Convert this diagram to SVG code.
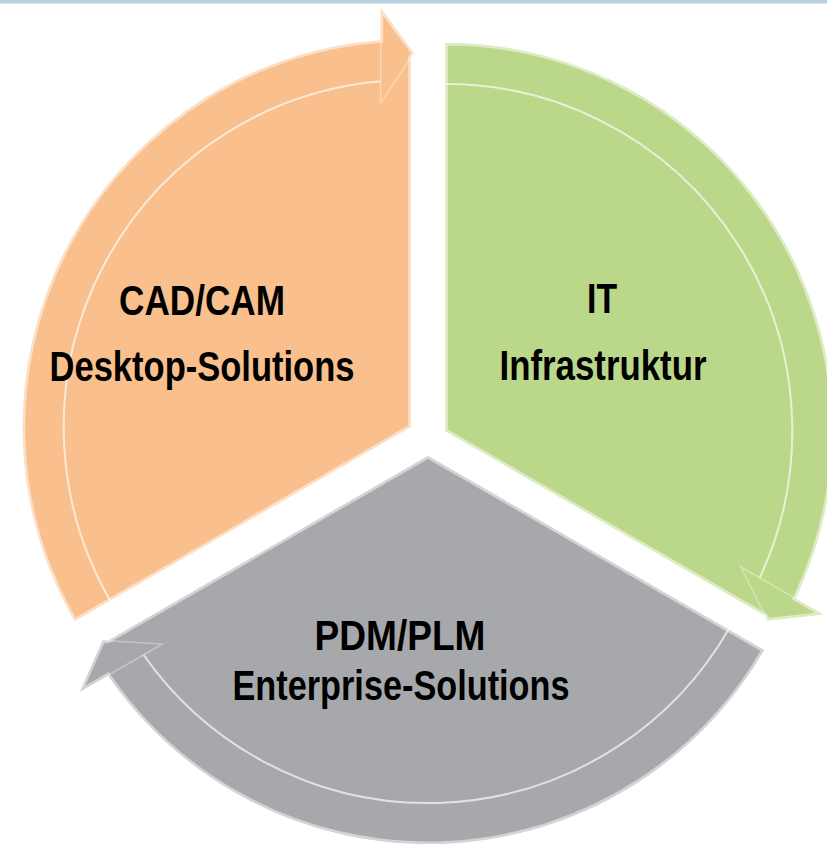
<svg xmlns="http://www.w3.org/2000/svg" width="827" height="846" viewBox="0 0 827 846">
<style>
  .lbl{font-family:"Liberation Sans","Arial",sans-serif;font-weight:bold;font-size:42px;fill:#000;text-anchor:middle}
  .bevel{fill:none;stroke:#fff;stroke-opacity:.5;stroke-width:5}
  .inner{fill:none;stroke:#fff;stroke-opacity:.65;stroke-width:2}
  .headline{fill:none;stroke:#fff;stroke-opacity:.35;stroke-width:1.5}
</style>
<defs>
  <path id="seg" d="M0,0 L0,-369.5 L3,-374 L-30,-419 L-30,-386.8 A388,388 0 0 0 -336,194 Z"/>
  <clipPath id="clip" clipPathUnits="userSpaceOnUse"><use href="#seg"/></clipPath>
</defs>
<rect x="0" y="0" width="827" height="3.5" fill="#B7CEDC"/>
<g id="node-cadcam">
  <g transform="translate(410.7,427)">
    <use href="#seg" fill="#F9BF8C"/>
    <use href="#seg" class="bevel" clip-path="url(#clip)"/>
    <path class="inner" d="M-30,-345.7 A347,347 0 0 0 -300.5,173.5"/>
    <path class="headline" d="M-30,-386.8 L-30,-324 L0,-369.5"/>
  </g>
  <text class="lbl" x="202" y="315" textLength="166" lengthAdjust="spacingAndGlyphs">CAD/CAM</text>
  <text class="lbl" x="202" y="381" textLength="305" lengthAdjust="spacingAndGlyphs">Desktop-Solutions</text>
</g>
<g id="node-it">
  <g transform="translate(445.3,431) rotate(120)">
    <use href="#seg" fill="#BBD88A"/>
    <use href="#seg" class="bevel" clip-path="url(#clip)"/>
    <path class="inner" d="M-30,-345.7 A347,347 0 0 0 -300.5,173.5"/>
    <path class="headline" d="M-30,-386.8 L-30,-324 L0,-369.5"/>
  </g>
  <text class="lbl" x="602" y="313" textLength="30" lengthAdjust="spacingAndGlyphs">IT</text>
  <text class="lbl" x="603" y="380" textLength="207" lengthAdjust="spacingAndGlyphs">Infrastruktur</text>
</g>
<g id="node-pdm">
  <g transform="translate(428,456) rotate(240)">
    <use href="#seg" fill="#A7A8AC"/>
    <use href="#seg" class="bevel" clip-path="url(#clip)"/>
    <path class="inner" d="M-30,-345.7 A347,347 0 0 0 -300.5,173.5"/>
    <path class="headline" d="M-30,-386.8 L-30,-324 L0,-369.5"/>
  </g>
  <text class="lbl" x="400" y="650" textLength="171" lengthAdjust="spacingAndGlyphs">PDM/PLM</text>
  <text class="lbl" x="401" y="700" textLength="337" lengthAdjust="spacingAndGlyphs">Enterprise-Solutions</text>
</g>
</svg>
